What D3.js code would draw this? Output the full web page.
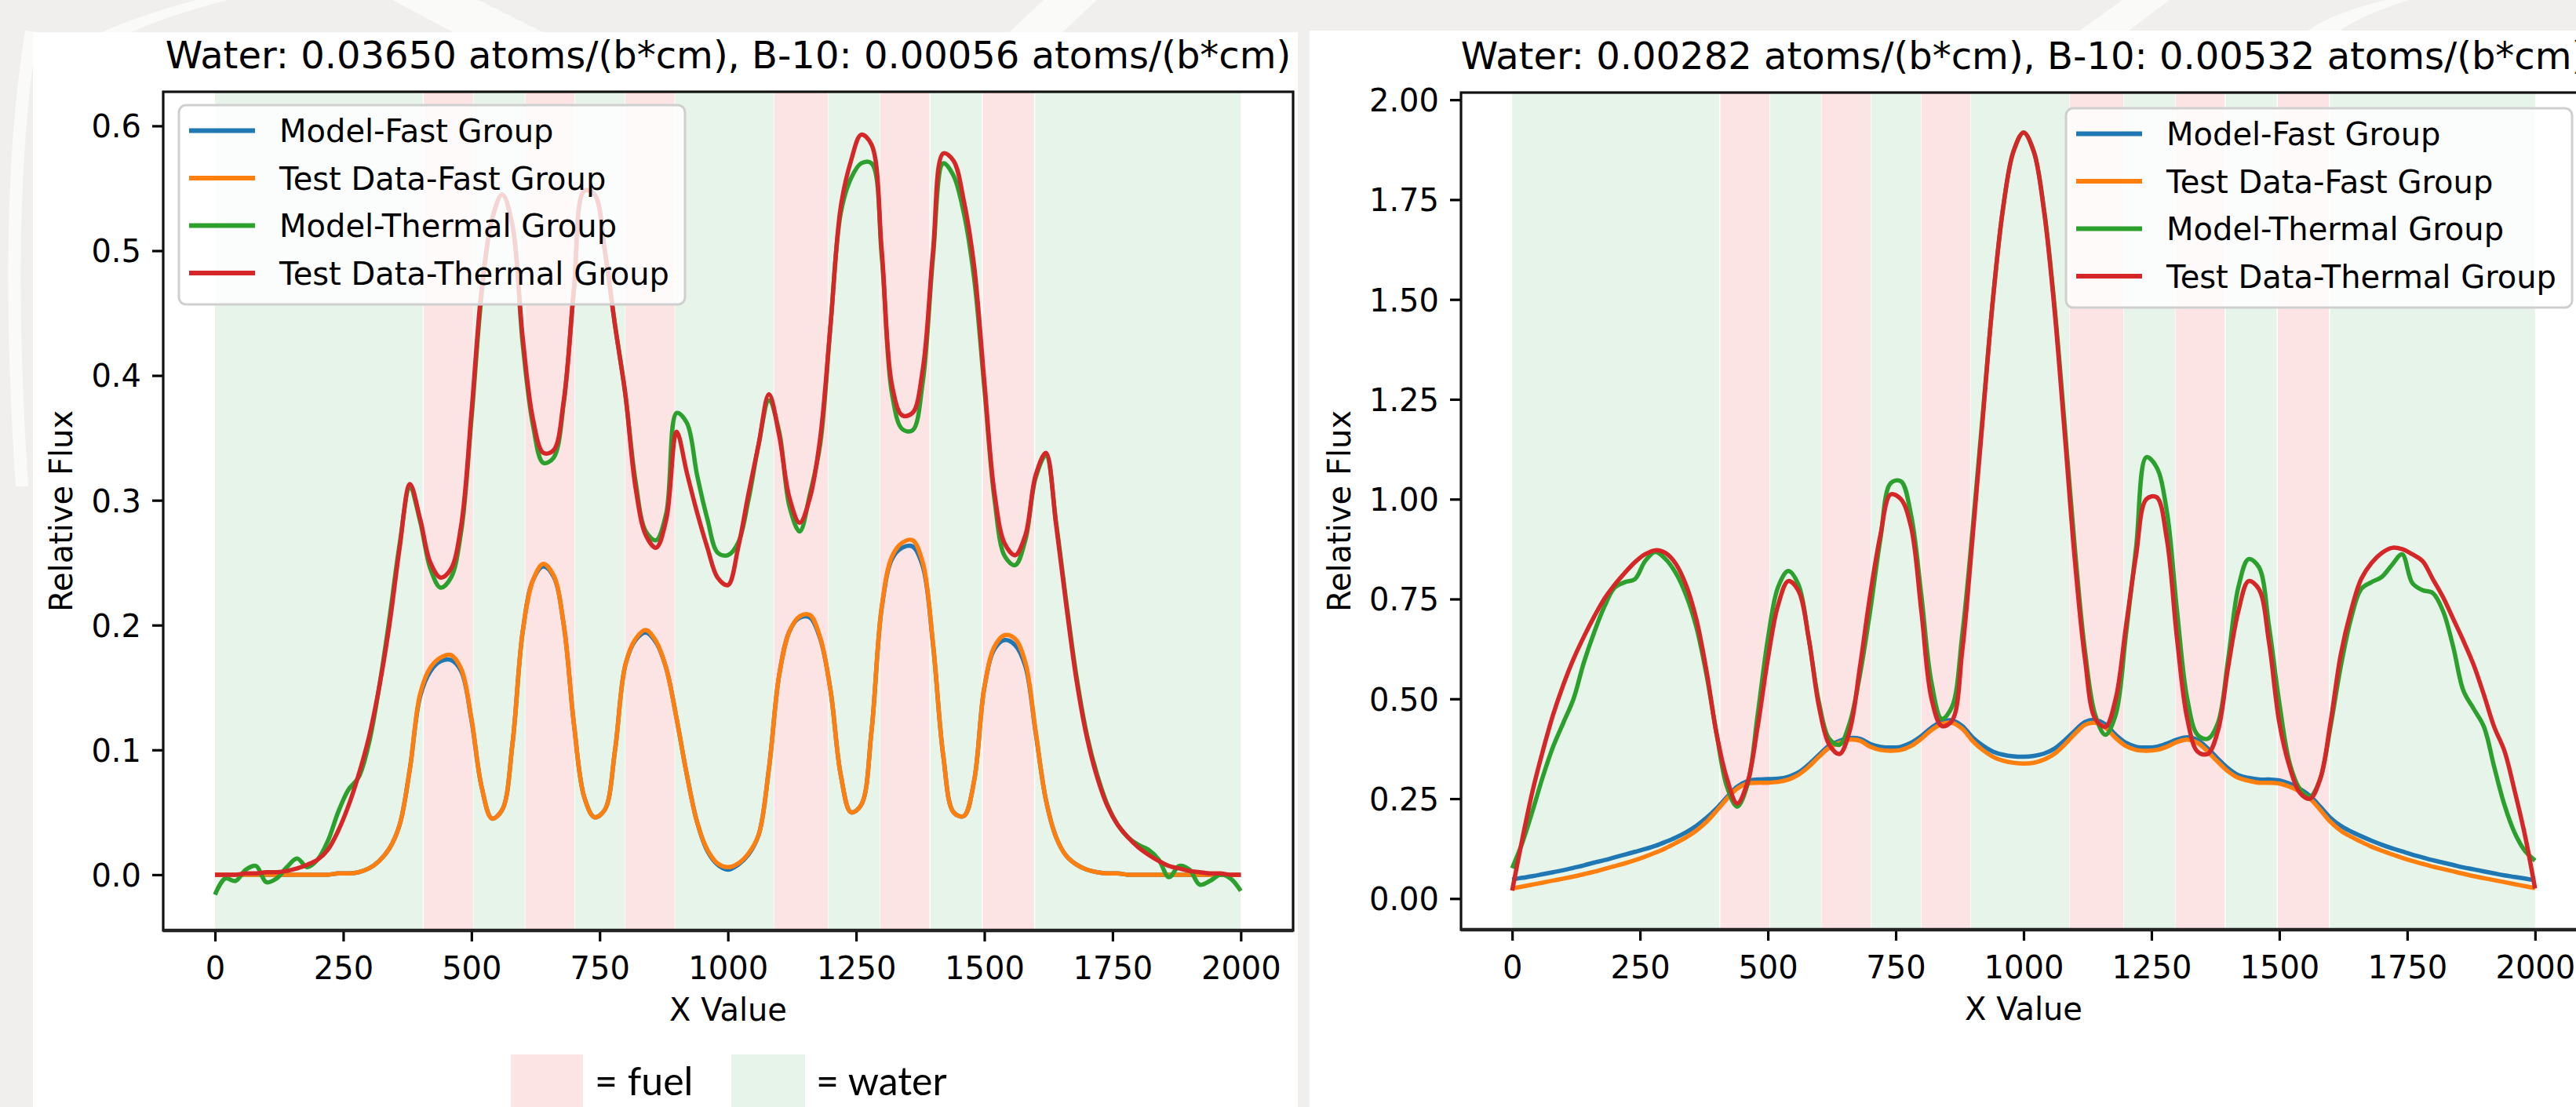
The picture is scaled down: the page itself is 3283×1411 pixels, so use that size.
<!DOCTYPE html>
<html>
<head>
<meta charset="utf-8">
<script src="https://cdnjs.cloudflare.com/ajax/libs/d3/7.8.5/d3.min.js"></script>
<style>
  html, body { margin: 0; padding: 0; background: #f0efed; overflow: hidden; }
  svg { display: block; }
  text { font-family: "DejaVu Sans", sans-serif; fill: #000; }
</style>
</head>
<body>
<script>
// sample positions (x value) shared by every series
var xs = d3.range(0, 2001, 20);

// left plot: Water 0.03650, B-10 0.00056
var leftModelFast = [
  0,0,0,0,0,0,0,0,0,0,
  0,0,0.001,0.001,0.002,0.005,0.011,0.021,0.040,0.085,
  0.143,0.163,0.171,0.172,0.163,0.124,0.070,0.045,0.052,0.105,
  0.195,0.236,0.247,0.239,0.200,0.120,0.062,0.046,0.052,0.100,
  0.168,0.188,0.194,0.186,0.165,0.125,0.080,0.042,0.019,0.008,
  0.004,0.008,0.016,0.032,0.085,0.160,0.195,0.206,0.206,0.189,
  0.148,0.080,0.050,0.056,0.115,0.214,0.253,0.262,0.263,0.247,
  0.184,0.095,0.050,0.047,0.075,0.150,0.181,0.188,0.184,0.167,
  0.114,0.060,0.030,0.015,0.008,0.004,0.002,0.001,0.001,0,
  0,0,0,0,0,0,0,0,0,0,
  0
];
var leftTestFast = [
  0,0,0,0,0,0,0,0,0,0,
  0,0,0.001,0.001,0.002,0.005,0.011,0.021,0.040,0.085,
  0.145,0.166,0.174,0.176,0.165,0.125,0.070,0.045,0.052,0.105,
  0.195,0.236,0.249,0.240,0.200,0.120,0.062,0.046,0.052,0.100,
  0.168,0.189,0.196,0.187,0.165,0.125,0.080,0.042,0.020,0.009,
  0.006,0.009,0.017,0.032,0.085,0.160,0.195,0.207,0.208,0.190,
  0.148,0.080,0.050,0.056,0.115,0.215,0.255,0.266,0.268,0.250,
  0.185,0.095,0.050,0.047,0.075,0.150,0.183,0.192,0.189,0.170,
  0.115,0.060,0.030,0.015,0.008,0.004,0.002,0.001,0.001,0,
  0,0,0,0,0,0,0,0,0,0,
  0
];
var leftModelThermal = [
  -0.016,-0.003,-0.005,0.004,0.007,-0.006,-0.003,0.006,0.013,0.006,
  0.012,0.027,0.050,0.068,0.078,0.105,0.150,0.205,0.265,0.310,
  0.283,0.245,0.230,0.238,0.275,0.365,0.465,0.525,0.545,0.520,
  0.425,0.360,0.330,0.334,0.378,0.470,0.548,0.545,0.500,0.440,
  0.385,0.315,0.275,0.268,0.290,0.370,0.362,0.320,0.285,0.258,
  0.256,0.266,0.300,0.345,0.380,0.355,0.295,0.275,0.305,0.345,
  0.440,0.530,0.558,0.570,0.570,0.495,0.385,0.357,0.356,0.395,
  0.495,0.570,0.560,0.530,0.478,0.390,0.300,0.255,0.248,0.268,
  0.318,0.336,0.282,0.218,0.158,0.112,0.080,0.056,0.040,0.030,
  0.024,0.020,0.012,-0.002,0.007,0.004,-0.008,-0.005,0.000,-0.003,
  -0.013
];
var leftTestThermal = [
  0,0,0,0.001,0.001,0.002,0.002,0.003,0.005,0.008,
  0.012,0.020,0.035,0.055,0.080,0.110,0.150,0.200,0.262,0.313,
  0.285,0.250,0.238,0.245,0.280,0.370,0.470,0.525,0.545,0.520,
  0.430,0.365,0.338,0.340,0.380,0.470,0.548,0.545,0.500,0.440,
  0.385,0.310,0.272,0.262,0.285,0.355,0.322,0.290,0.262,0.238,
  0.232,0.262,0.305,0.345,0.385,0.352,0.302,0.282,0.302,0.350,
  0.440,0.535,0.572,0.593,0.585,0.500,0.392,0.368,0.370,0.405,
  0.500,0.578,0.572,0.540,0.488,0.395,0.305,0.265,0.256,0.272,
  0.320,0.338,0.280,0.215,0.155,0.110,0.078,0.055,0.040,0.030,
  0.022,0.016,0.011,0.007,0.005,0.003,0.002,0.001,0.001,0,
  0
];

// right plot: Water 0.00282, B-10 0.00532
var rightModelFast = [
  0.048,0.052,0.056,0.061,0.066,0.071,0.077,0.083,0.090,0.096,
  0.103,0.110,0.117,0.124,0.132,0.142,0.153,0.166,0.182,0.202,
  0.226,0.254,0.280,0.294,0.298,0.299,0.300,0.305,0.316,0.336,
  0.360,0.383,0.395,0.402,0.400,0.387,0.380,0.378,0.380,0.390,
  0.407,0.428,0.443,0.446,0.432,0.404,0.383,0.368,0.360,0.356,
  0.355,0.357,0.363,0.375,0.396,0.420,0.442,0.447,0.436,0.410,
  0.390,0.380,0.378,0.380,0.388,0.398,0.404,0.397,0.376,0.350,
  0.326,0.309,0.302,0.298,0.298,0.296,0.288,0.275,0.257,0.230,
  0.202,0.182,0.168,0.156,0.145,0.135,0.126,0.118,0.110,0.103,
  0.096,0.090,0.084,0.078,0.073,0.068,0.063,0.058,0.054,0.050,
  0.046
];
var rightTestFast = [
  0.025,0.030,0.035,0.040,0.045,0.050,0.055,0.061,0.067,0.074,
  0.081,0.088,0.096,0.105,0.115,0.126,0.139,0.153,0.170,0.192,
  0.220,0.250,0.275,0.288,0.290,0.290,0.292,0.298,0.310,0.330,
  0.355,0.378,0.390,0.398,0.395,0.380,0.372,0.370,0.372,0.382,
  0.400,0.422,0.437,0.440,0.425,0.395,0.372,0.355,0.345,0.340,
  0.338,0.340,0.348,0.362,0.385,0.412,0.435,0.440,0.428,0.402,
  0.382,0.372,0.370,0.372,0.380,0.392,0.398,0.390,0.368,0.342,
  0.318,0.302,0.295,0.290,0.290,0.288,0.280,0.268,0.250,0.222,
  0.192,0.170,0.155,0.142,0.130,0.120,0.111,0.102,0.094,0.087,
  0.080,0.074,0.068,0.062,0.056,0.051,0.046,0.041,0.036,0.031,
  0.026
];
var rightModelThermal = [
  0.076,0.140,0.220,0.305,0.380,0.440,0.500,0.590,0.665,0.730,
  0.778,0.792,0.800,0.845,0.868,0.850,0.815,0.760,0.680,0.560,
  0.410,0.280,0.230,0.285,0.460,0.650,0.780,0.820,0.785,0.650,
  0.490,0.400,0.385,0.440,0.560,0.720,0.900,1.040,1.045,0.960,
  0.760,0.540,0.450,0.480,0.660,0.920,1.210,1.500,1.730,1.870,
  1.918,1.870,1.725,1.490,1.190,0.880,0.620,0.460,0.410,0.460,
  0.660,0.880,1.105,1.080,0.970,0.720,0.500,0.410,0.400,0.440,
  0.600,0.780,0.850,0.830,0.680,0.490,0.340,0.275,0.255,0.300,
  0.430,0.580,0.700,0.775,0.792,0.805,0.835,0.862,0.790,0.772,
  0.765,0.720,0.630,0.520,0.475,0.430,0.330,0.235,0.165,0.120,
  0.095
];
var rightTestThermal = [
  0.020,0.150,0.270,0.370,0.460,0.535,0.600,0.655,0.705,0.750,
  0.785,0.815,0.842,0.862,0.872,0.865,0.838,0.785,0.700,0.570,
  0.410,0.300,0.238,0.290,0.430,0.600,0.735,0.795,0.770,0.650,
  0.480,0.385,0.362,0.420,0.580,0.760,0.910,1.012,1.000,0.930,
  0.720,0.500,0.432,0.445,0.620,0.900,1.200,1.500,1.730,1.870,
  1.918,1.870,1.720,1.480,1.170,0.850,0.600,0.450,0.430,0.500,
  0.680,0.860,1.000,1.005,0.900,0.650,0.450,0.368,0.362,0.420,
  0.580,0.720,0.795,0.775,0.640,0.440,0.330,0.265,0.250,0.300,
  0.440,0.610,0.720,0.800,0.840,0.865,0.878,0.875,0.862,0.845,
  0.800,0.755,0.700,0.645,0.585,0.510,0.430,0.370,0.270,0.160,
  0.025
];

// core layout bands (x value ranges)
var fuelBands = [[407,503],[605,701],[800,896],[1090,1195],[1297,1393],[1497,1597]];
var waterBands = [[0,405],[504,604],[702,799],[897,1089],[1196,1296],[1395,1495],[1599,2000]];

var seriesNames = ["Model-Fast Group", "Test Data-Fast Group", "Model-Thermal Group", "Test Data-Thermal Group"];
var xTicks = [0, 250, 500, 750, 1000, 1250, 1500, 1750, 2000];
var leftYTicks = [0, 0.1, 0.2, 0.3, 0.4, 0.5, 0.6];
var rightYTicks = [0, 0.25, 0.5, 0.75, 1.0, 1.25, 1.5, 1.75, 2.0];

var colors = ["#1f77b4", "#ff7f0e", "#2ca02c", "#d62728"];
var fuelColor = "#fce4e4";
var waterColor = "#e6f4ea";

var W = 3283, H = 1411;
var svg = d3.select("body").append("svg").attr("width", W).attr("height", H);

// slide background with faint white watermark shapes
svg.append("rect").attr("width", W).attr("height", H).attr("fill", "#f0efed");
var mark = svg.append("g").attr("fill", "#fafaf9");
mark.append("path").attr("d", "M250,0 Q140,30 95,60 L135,60 Q175,30 290,0 Z");
mark.append("path").attr("d", "M500,0 L610,0 L700,45 L585,45 Z");
mark.append("path").attr("d", "M1330,0 L1398,0 L1350,45 L1282,45 Z");
mark.append("path").attr("d", "M2705,0 L2765,0 L2705,45 L2642,45 Z");
mark.append("path").attr("d", "M3040,0 Q2960,20 2935,45 L2975,45 Q3000,22 3070,0 Z");
svg.append("path").attr("d", "M40,40 Q4,260 28,620").attr("fill", "none")
   .attr("stroke", "#fafaf9").attr("stroke-width", 16);

// white chart panels
svg.append("rect").attr("x", 42).attr("y", 41).attr("width", 1612).attr("height", H - 41).attr("fill", "#fff");
svg.append("rect").attr("x", 1669).attr("y", 39).attr("width", W - 1669).attr("height", H - 39).attr("fill", "#fff");

function drawPanel(p) {
  var x = d3.scaleLinear().domain(p.xDomain).range([p.left, p.right]);
  var y = d3.scaleLinear().domain(p.yDomain).range([p.bottom, p.top]);
  var g = svg.append("g");

  g.selectAll("rect.water").data(waterBands).enter().append("rect")
    .attr("class", "water")
    .attr("x", function(d){ return x(d[0]); })
    .attr("width", function(d){ return x(d[1]) - x(d[0]); })
    .attr("y", p.top).attr("height", p.bottom - p.top)
    .attr("fill", waterColor);
  g.selectAll("rect.fuel").data(fuelBands).enter().append("rect")
    .attr("class", "fuel")
    .attr("x", function(d){ return x(d[0]); })
    .attr("width", function(d){ return x(d[1]) - x(d[0]); })
    .attr("y", p.top).attr("height", p.bottom - p.top)
    .attr("fill", fuelColor);

  var line = d3.line()
    .x(function(d, i){ return x(xs[i]); })
    .y(function(d){ return y(d); })
    .curve(d3.curveCatmullRom.alpha(0.5));

  p.series.forEach(function(s, i){
    g.append("path").attr("d", line(s))
      .attr("fill", "none").attr("stroke", colors[i])
      .attr("stroke-width", 5.5).attr("stroke-linejoin", "round");
  });

  // axes
  var xAxis = g.append("g").attr("transform", "translate(0," + p.bottom + ")")
    .call(d3.axisBottom(x).tickValues(xTicks).tickFormat(d3.format("d"))
      .tickSize(14).tickSizeOuter(0).tickPadding(20));
  var yAxis = g.append("g").attr("transform", "translate(" + p.left + ",0)")
    .call(d3.axisLeft(y).tickValues(p.yTicks).tickFormat(d3.format(p.yFormat))
      .tickSize(14).tickSizeOuter(0).tickPadding(14));
  [xAxis, yAxis].forEach(function(a){
    a.select(".domain").remove();
    a.selectAll(".tick line").attr("stroke", "#000").attr("stroke-width", 3.2);
    a.selectAll(".tick text").attr("font-size", 40).attr("fill", "#000")
      .attr("font-family", "DejaVu Sans");
  });
  yAxis.selectAll(".tick text").attr("dy", "0.36em");

  // spines
  g.append("rect").attr("x", p.left).attr("y", p.top)
    .attr("width", p.right - p.left).attr("height", p.bottom - p.top)
    .attr("fill", "none").attr("stroke", "#111").attr("stroke-width", 3.2);
  g.append("line").attr("x1", p.left).attr("x2", p.right)
    .attr("y1", p.bottom).attr("y2", p.bottom)
    .attr("stroke", "#222").attr("stroke-width", 4.5);

  // labels
  g.append("text").attr("x", (p.left + p.right) / 2).attr("y", p.titleY)
    .attr("text-anchor", "middle").attr("font-size", 48).text(p.title);
  g.append("text").attr("x", (p.left + p.right) / 2).attr("y", p.bottom + 115)
    .attr("text-anchor", "middle").attr("font-size", 40).text("X Value");
  g.append("text")
    .attr("transform", "translate(" + p.yLabelX + "," + ((p.top + p.bottom) / 2) + ") rotate(-90)")
    .attr("text-anchor", "middle").attr("font-size", 40).text("Relative Flux");

  // legend
  var lg = g.append("g").attr("transform", "translate(" + p.legendX + "," + p.legendY + ")");
  lg.append("rect").attr("width", 645).attr("height", 254).attr("rx", 9)
    .attr("fill", "#fff").attr("fill-opacity", 0.8)
    .attr("stroke", "#cfcfcf").attr("stroke-width", 3);
  seriesNames.forEach(function(name, i){
    var base = 47 + i * 60.5;
    lg.append("line").attr("x1", 13).attr("x2", 97)
      .attr("y1", base - 14.5).attr("y2", base - 14.5)
      .attr("stroke", colors[i]).attr("stroke-width", 6);
    lg.append("text").attr("x", 128).attr("y", base)
      .attr("font-size", 40).attr("fill", "#222").text(name);
  });
}

drawPanel({
  left: 208, right: 1648, top: 117, bottom: 1186,
  xDomain: [-101, 2102], yDomain: [-0.0447, 0.6273],
  yTicks: leftYTicks, yFormat: ".1f",
  series: [leftModelFast, leftTestFast, leftModelThermal, leftTestThermal],
  title: "Water: 0.03650 atoms/(b*cm), B-10: 0.00056 atoms/(b*cm)", titleY: 87,
  yLabelX: 92, legendX: 228, legendY: 134
});

drawPanel({
  left: 1862, right: 3296, top: 118, bottom: 1185,
  xDomain: [-100, 2100], yDomain: [-0.078, 2.018],
  yTicks: rightYTicks, yFormat: ".2f",
  series: [rightModelFast, rightTestFast, rightModelThermal, rightTestThermal],
  title: "Water: 0.00282 atoms/(b*cm), B-10: 0.00532 atoms/(b*cm)", titleY: 88,
  yLabelX: 1721, legendX: 2633, legendY: 138
});

// colour key under the left plot
var key = svg.append("g");
key.append("rect").attr("x", 651).attr("y", 1344).attr("width", 92).attr("height", 67).attr("fill", fuelColor);
key.append("text").attr("x", 758).attr("y", 1396)
  .attr("font-size", 50).attr("fill", "#111").style("font-family", "Lato, sans-serif").text("= fuel");
key.append("rect").attr("x", 932).attr("y", 1344).attr("width", 94).attr("height", 67).attr("fill", waterColor);
key.append("text").attr("x", 1040).attr("y", 1396)
  .attr("font-size", 50).attr("fill", "#111").style("font-family", "Lato, sans-serif").text("= water");
</script>
</body>
</html>
